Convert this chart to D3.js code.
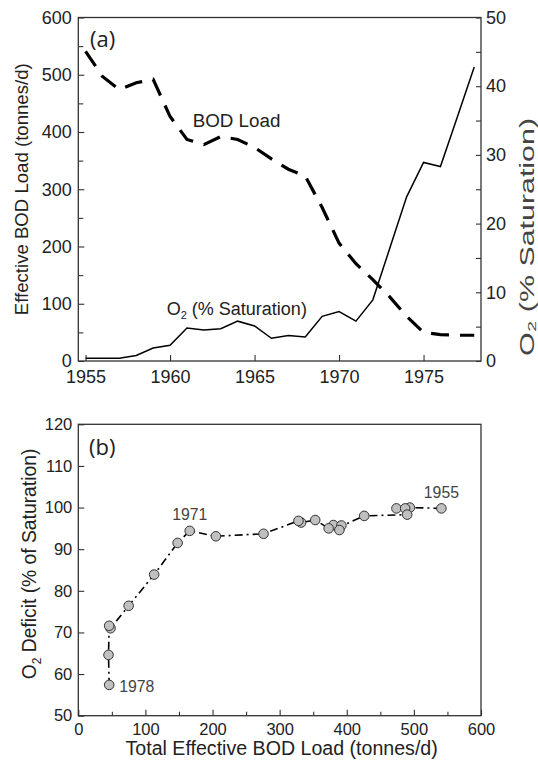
<!DOCTYPE html>
<html>
<head>
<meta charset="utf-8">
<script src="https://cdn.jsdelivr.net/npm/d3@7"></script>
<style>
  body { margin: 0; background: #fff; }
  svg { display: block; font-family: 'Liberation Sans', Arial, sans-serif; }
  .tick text { fill: #222; }
</style>
</head>
<body>
<div id="chart"></div>
<script>
(function() {
// panel (a): yearly series
const years = d3.range(1955, 1979)
const bodLoad = [541, 497, 474, 486, 492, 427, 387, 378, 392, 387, 373, 353,
                 335, 323, 268, 206, 170, 142, 112, 78, 50, 46, 45, 45]
const o2Sat = [0.4, 0.4, 0.4, 0.8, 1.9, 2.3, 4.8, 4.5, 4.7, 5.8, 5.1, 3.3,
               3.7, 3.5, 6.5, 7.2, 5.8, 8.9, 16.4, 23.9, 28.9, 28.3, 35.5, 42.8]

// panel (b): load vs deficit, one point per year (1955..1978)
const totalLoad = [541, 494, 474, 487, 490, 426, 390, 380, 392, 389, 373, 353,
                   332, 328, 276, 205, 166, 148, 113, 75, 48, 46, 45, 46]
const o2Deficit = [99.8, 100.0, 99.8, 99.8, 98.3, 98.0, 95.4, 95.8, 95.7, 94.6, 95.0, 97.0,
                   96.4, 96.8, 93.7, 93.1, 94.4, 91.5, 83.9, 76.4, 71.0, 71.6, 64.6, 57.4]
const labelledYears = [1955, 1971, 1978]

const yearTicks = [1955, 1960, 1965, 1970, 1975]
const loadTicks = d3.range(0, 601, 100)
const satTicks = d3.range(0, 51, 10)
const deficitTicks = d3.range(50, 121, 10)

const width = 538,
      height = 764

const svg = d3.select('#chart')
  .append('svg')
  .attr('width', width)
  .attr('height', height)

const ink = '#222'
const frameColor = '#333'

// ---------- panel (a) ----------
const a = { left: 78.3, right: 481, top: 17.5, bottom: 361 }

const xYear = d3.scaleLinear()
  .domain([1954.57, 1978.4])
  .range([a.left, a.right])

const yLoad = d3.scaleLinear()
  .domain([0, 600])
  .range([a.bottom, a.top])

const ySat = d3.scaleLinear()
  .domain([0, 50])
  .range([a.bottom, a.top])

const gA = svg.append('g')

function styleAxis(g, size) {
  g.select('.domain').remove()
  g.selectAll('.tick line').attr('stroke', frameColor).attr('stroke-width', 1.1)
  g.selectAll('.tick text').style('font-size', size + 'px')
    .style('font-family', "'Liberation Sans', Arial, sans-serif")
}

gA.append('g')
  .attr('transform', 'translate(0,' + a.bottom + ')')
  .call(d3.axisBottom(xYear).tickValues(yearTicks).tickFormat(d3.format('d'))
    .tickSize(-6).tickPadding(9))
  .call(g => styleAxis(g, 18))

gA.append('g')
  .attr('transform', 'translate(' + a.left + ',0)')
  .call(d3.axisLeft(yLoad).tickValues(loadTicks).tickSize(-6).tickPadding(6.5))
  .call(g => styleAxis(g, 18))

gA.append('g')
  .attr('transform', 'translate(' + a.left + ',0)')
  .call(d3.axisLeft(yLoad).tickValues(d3.range(50, 600, 100)).tickFormat('').tickSize(-5))
  .call(g => styleAxis(g, 18))

gA.append('g')
  .attr('transform', 'translate(' + a.right + ',0)')
  .call(d3.axisRight(ySat).tickValues(satTicks).tickSize(-5).tickPadding(5))
  .call(g => styleAxis(g, 18))

gA.append('g')
  .attr('transform', 'translate(' + a.right + ',0)')
  .call(d3.axisRight(ySat).tickValues(d3.range(5, 50, 10)).tickFormat('').tickSize(-5))
  .call(g => styleAxis(g, 18))

gA.append('rect')
  .attr('x', a.left).attr('y', a.top)
  .attr('width', a.right - a.left).attr('height', a.bottom - a.top)
  .attr('fill', 'none').attr('stroke', frameColor).attr('stroke-width', 1.3)

const bodLine = d3.line()
  .x((d, i) => xYear(years[i]))
  .y(d => yLoad(d))

const satLine = d3.line()
  .x((d, i) => xYear(years[i]))
  .y(d => ySat(d))

gA.append('path')
  .datum(bodLoad)
  .attr('d', bodLine)
  .attr('fill', 'none')
  .attr('stroke', '#000')
  .attr('stroke-width', 3.2)
  .attr('stroke-dasharray', '18,11')

gA.append('path')
  .datum(o2Sat)
  .attr('d', satLine)
  .attr('fill', 'none')
  .attr('stroke', '#000')
  .attr('stroke-width', 1.5)

gA.append('text')
  .attr('x', 90).attr('y', 47)
  .style('font-family', "'Open Sans', sans-serif")
  .style('font-size', '22px')
  .attr('fill', ink)
  .text('(a)')

gA.append('text')
  .attr('x', 192.7).attr('y', 127)
  .style('font-size', '18.8px')
  .attr('fill', ink)
  .text('BOD Load')

const o2Label = gA.append('text')
  .attr('x', 166.7).attr('y', 315)
  .style('font-size', '18px')
  .attr('fill', ink)
o2Label.append('tspan').text('O')
o2Label.append('tspan').attr('dy', 4).style('font-size', '11px').text('2')
o2Label.append('tspan').attr('dy', -4).text(' (% Saturation)')

gA.append('text')
  .attr('transform', 'translate(28,' + ((a.top + a.bottom) / 2) + ') rotate(-90)')
  .attr('text-anchor', 'middle')
  .style('font-size', '18.6px')
  .attr('fill', ink)
  .text('Effective BOD Load (tonnes/d)')

// right title is drawn stretched along its length in the original
gA.append('text')
  .attr('transform', 'translate(534,237) rotate(-90)')
  .attr('text-anchor', 'middle')
  .style('font-size', '19.5px')
  .attr('textLength', 238)
  .attr('lengthAdjust', 'spacingAndGlyphs')
  .attr('fill', '#444')
  .text('O₂ (% Saturation)')

// ---------- panel (b) ----------
const b = { left: 78.3, right: 481, top: 424.3, bottom: 715.7 }

const xLoad = d3.scaleLinear()
  .domain([0, 600])
  .range([b.left, b.right])

const yDef = d3.scaleLinear()
  .domain([50, 120])
  .range([b.bottom, b.top])

const gB = svg.append('g')

gB.append('g')
  .attr('transform', 'translate(0,' + b.bottom + ')')
  .call(d3.axisBottom(xLoad).tickValues(loadTicks).tickSize(-6).tickPadding(7.5))
  .call(g => styleAxis(g, 16.5))

gB.append('g')
  .attr('transform', 'translate(0,' + b.bottom + ')')
  .call(d3.axisBottom(xLoad).tickValues(d3.range(50, 600, 100)).tickFormat('').tickSize(-4))
  .call(g => styleAxis(g, 16.5))

gB.append('g')
  .attr('transform', 'translate(' + b.left + ',0)')
  .call(d3.axisLeft(yDef).tickValues(deficitTicks).tickSize(-6).tickPadding(6))
  .call(g => styleAxis(g, 16.5))

gB.append('rect')
  .attr('x', b.left).attr('y', b.top)
  .attr('width', b.right - b.left).attr('height', b.bottom - b.top)
  .attr('fill', 'none').attr('stroke', frameColor).attr('stroke-width', 1.3)

const pts = totalLoad.map((d, i) => ({ year: years[i], load: d, deficit: o2Deficit[i] }))

gB.append('path')
  .datum(pts)
  .attr('d', d3.line().x(d => xLoad(d.load)).y(d => yDef(d.deficit)))
  .attr('fill', 'none')
  .attr('stroke', '#000')
  .attr('stroke-width', 1.6)
  .attr('stroke-dasharray', '8,4,2,4')

gB.selectAll('.pt')
  .data(pts)
  .enter().append('circle')
  .attr('class', 'pt')
  .attr('cx', d => xLoad(d.load))
  .attr('cy', d => yDef(d.deficit))
  .attr('r', 4.8)
  .attr('fill', '#c0c0c0')
  .attr('stroke', '#333')
  .attr('stroke-width', 1)

const yearOffsets = { 1955: [0, -10, 'middle'], 1971: [0, -11, 'middle'], 1978: [10, 7, 'start'] }

gB.selectAll('.yr')
  .data(pts.filter(d => labelledYears.includes(d.year)))
  .enter().append('text')
  .attr('class', 'yr')
  .attr('x', d => xLoad(d.load) + yearOffsets[d.year][0])
  .attr('y', d => yDef(d.deficit) + yearOffsets[d.year][1])
  .attr('text-anchor', d => yearOffsets[d.year][2])
  .style('font-size', '15.8px')
  .attr('fill', '#444')
  .text(d => d.year)

gB.append('text')
  .attr('x', 89).attr('y', 455)
  .style('font-family', "'Open Sans', sans-serif")
  .style('font-size', '22px')
  .attr('fill', ink)
  .text('(b)')

const defTitle = gB.append('text')
  .attr('transform', 'translate(36,564) rotate(-90)')
  .attr('text-anchor', 'middle')
  .style('font-size', '19.3px')
  .attr('fill', ink)
defTitle.append('tspan').text('O')
defTitle.append('tspan').attr('dy', 5).style('font-size', '12px').text('2')
defTitle.append('tspan').attr('dy', -5).text(' Deficit (% of Saturation)')

gB.append('text')
  .attr('x', (b.left + b.right) / 2 + 2).attr('y', 755)
  .attr('text-anchor', 'middle')
  .style('font-size', '19.6px')
  .attr('fill', ink)
  .text('Total Effective BOD Load (tonnes/d)')

})()
</script>
</body>
</html>
